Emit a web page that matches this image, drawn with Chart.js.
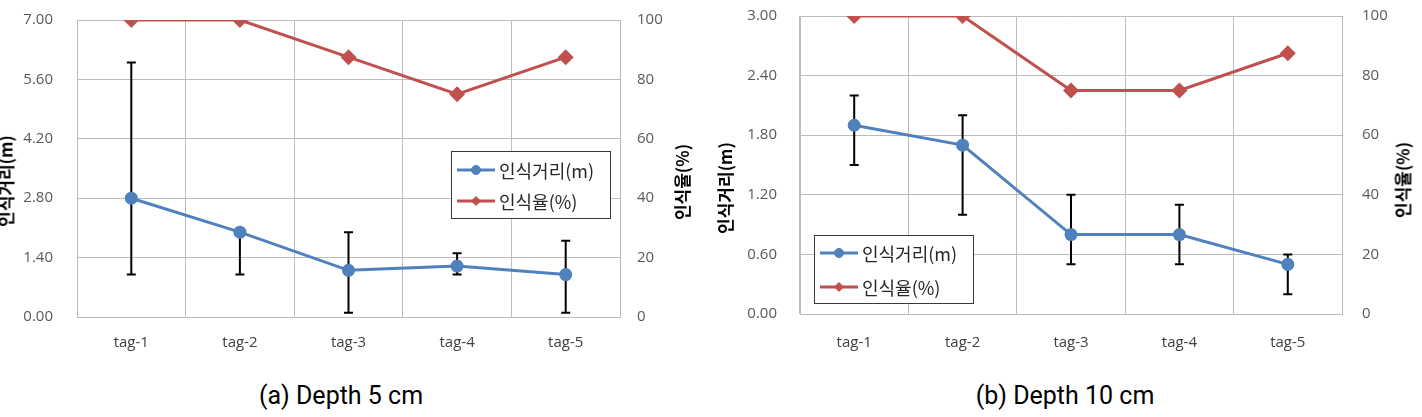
<!DOCTYPE html>
<html><head><meta charset="utf-8">
<script src="https://cdn.jsdelivr.net/npm/chart.js@4/dist/chart.umd.min.js"></script>
<style>
html,body{margin:0;padding:0;background:#fff;}
body{width:1422px;height:417px;overflow:hidden;position:relative;}
.wrap{position:absolute;top:0;width:711px;height:360px;}
.ytitle{position:absolute;font-family:"Noto Sans CJK KR","Noto Sans",sans-serif;font-weight:bold;font-size:17px;color:#000;white-space:nowrap;line-height:1;transform:translate(-50%,-50%) rotate(-90deg);}
.cap{position:absolute;top:395px;transform:translate(-50%,-50%);font-family:Roboto,"Open Sans",sans-serif;font-size:25px;color:#000;white-space:nowrap;line-height:1;}
</style></head><body>
<div class="wrap" style="left:0"><canvas id="c1" width="711" height="360"></canvas></div>
<div class="wrap" style="left:711px"><canvas id="c2" width="711" height="360"></canvas></div>
<div class="ytitle" style="left:5px;top:181px">인식거리(m)</div>
<div class="ytitle" style="left:681px;top:182px">인식율(%)</div>
<div class="ytitle" style="left:724px;top:188px">인식거리(m)</div>
<div class="ytitle" style="left:1402px;top:180px">인식율(%)</div>
<div class="cap" style="left:341px">(a) Depth 5 cm</div>
<div class="cap" style="left:1065px">(b) Depth 10 cm</div>
<script>
const categories = ['tag-1','tag-2','tag-3','tag-4','tag-5'];
const seriesNames = ['인식거리(m)','인식율(%)'];

// (a) Depth 5 cm
const dist5 = [2.8, 2.0, 1.1, 1.2, 1.0];
const dist5Upper = [6.0, 2.0, 2.0, 1.5, 1.8];
const dist5Lower = [1.0, 1.0, 0.1, 1.0, 0.1];
const rate5 = [100, 100, 87.5, 75, 87.5];
const distTicks5 = [0, 1.4, 2.8, 4.2, 5.6, 7.0];

// (b) Depth 10 cm
const dist10 = [1.9, 1.7, 0.8, 0.8, 0.5];
const dist10Upper = [2.2, 2.0, 1.2, 1.1, 0.6];
const dist10Lower = [1.5, 1.0, 0.5, 0.5, 0.2];
const rate10 = [100, 100, 75, 75, 87.5];
const distTicks10 = [0, 0.6, 1.2, 1.8, 2.4, 3.0];

const rateTicks = [0, 20, 40, 60, 80, 100];

const BLUE = '#4f81bd', RED = '#c0504d', GRID = '#bcbcbc';

const errorBars = {
  id: 'errorBars',
  beforeDatasetsDraw(chart, args, opts) {
    const {ctx} = chart, x = chart.scales.x, y = chart.scales.y;
    ctx.save();
    ctx.strokeStyle = '#000'; ctx.lineWidth = 2; ctx.lineCap = 'butt';
    opts.upper.forEach((u, i) => {
      const px = x.getPixelForValue(i);
      const pu = y.getPixelForValue(u), pl = y.getPixelForValue(opts.lower[i]);
      ctx.beginPath();
      ctx.moveTo(px, pu); ctx.lineTo(px, pl);
      ctx.moveTo(px - 4.5, pu); ctx.lineTo(px + 4.5, pu);
      ctx.moveTo(px - 4.5, pl); ctx.lineTo(px + 4.5, pl);
      ctx.stroke();
    });
    ctx.restore();
  }
};

const boxLegend = {
  id: 'boxLegend',
  afterDraw(chart, args, o) {
    const {ctx, chartArea} = chart;
    const bx = chartArea.left + o.dx, by = chartArea.top + o.dy;
    ctx.save();
    ctx.fillStyle = '#fff';
    ctx.fillRect(bx, by, o.w, o.h);
    ctx.strokeStyle = '#3a3a3a'; ctx.lineWidth = 1;
    ctx.strokeRect(Math.round(bx) + 0.5, Math.round(by) + 0.5, o.w, o.h);
    chart.data.datasets.forEach((ds, i) => {
      const ry = by + o.rows[i];
      ctx.strokeStyle = ds.borderColor; ctx.lineWidth = 3;
      ctx.beginPath(); ctx.moveTo(bx + 6, ry); ctx.lineTo(bx + 44, ry); ctx.stroke();
      ctx.fillStyle = ds.backgroundColor; ctx.strokeStyle = ds.borderColor; ctx.lineWidth = 1;
      Chart.helpers.drawPoint(ctx, {pointStyle: ds.pointStyle, radius: 4.5, rotation: 0, borderWidth: 1}, bx + 25, ry);
      ctx.fillStyle = '#262626';
      ctx.font = '18px "Noto Sans CJK KR"';
      ctx.textBaseline = 'middle'; ctx.textAlign = 'left';
      ctx.fillText(ds.label, bx + 48, ry + 1);
    });
    ctx.restore();
  }
};

function makeChart(id, dist, up, lo, rate, dTicks, geo) {
  return new Chart(document.getElementById(id), {
    type: 'line',
    data: {
      labels: categories,
      datasets: [
        {label: seriesNames[0], data: dist, yAxisID: 'y', borderColor: BLUE, backgroundColor: BLUE,
         borderWidth: 3, pointStyle: 'circle', pointRadius: 6.5, pointBorderWidth: 0, tension: 0},
        {label: seriesNames[1], data: rate, yAxisID: 'y1', borderColor: RED, backgroundColor: RED,
         borderWidth: 3, pointStyle: 'rectRot', pointRadius: 8, pointBorderWidth: 0, tension: 0}
      ]
    },
    options: {
      responsive: false, animation: false,
      layout: {padding: {top: geo.top, left: 0, right: 0, bottom: 0}},
      plugins: {
        legend: {display: false}, tooltip: {enabled: false},
        errorBars: {upper: up, lower: lo},
        boxLegend: geo.legend
      },
      scales: {
        x: {
          offset: true,
          grid: {offset: true, color: GRID, drawTicks: false},
          border: {display: true, color: GRID},
          ticks: {padding: geo.xPad, color: '#404040', font: {family: 'Open Sans', size: 15}},
          afterFit(s) { s.height = geo.xH; s.paddingLeft = 0; s.paddingRight = 0; }
        },
        y: {
          position: 'left', min: dTicks[0], max: dTicks[dTicks.length - 1],
          grid: {color: GRID, drawTicks: false},
          border: {display: true, color: GRID},
          ticks: {padding: geo.lPad, color: '#595959', font: {family: 'Open Sans', size: 15},
                  callback: v => Number(v).toFixed(2)},
          afterBuildTicks(s) { s.ticks = dTicks.map(v => ({value: v})); },
          afterFit(s) { s.width = geo.lW; s.paddingTop = 0; s.paddingBottom = 0; }
        },
        y1: {
          position: 'right', min: 0, max: 100,
          grid: {display: false, drawTicks: false},
          border: {display: true, color: GRID},
          ticks: {padding: geo.rPad, color: '#595959', font: {family: 'Open Sans', size: 15}},
          afterBuildTicks(s) { s.ticks = rateTicks.map(v => ({value: v})); },
          afterFit(s) { s.width = geo.rW; s.paddingTop = 0; s.paddingBottom = 0; }
        }
      }
    },
    plugins: [errorBars, boxLegend]
  });
}

makeChart('c1', dist5, dist5Upper, dist5Lower, rate5, distTicks5,
  {top: 20, xH: 43, xPad: 17, lW: 77, lPad: 24, rW: 91, rPad: 17,
   legend: {dx: 374, dy: 131, w: 159, h: 67, rows: [19, 50]}});
makeChart('c2', dist10, dist10Upper, dist10Lower, rate10, distTicks10,
  {top: 16, xH: 46, xPad: 20, lW: 89, lPad: 23, rW: 80, rPad: 20,
   legend: {dx: 14, dy: 219, w: 159, h: 68, rows: [18, 52]}});
</script>
</body></html>
